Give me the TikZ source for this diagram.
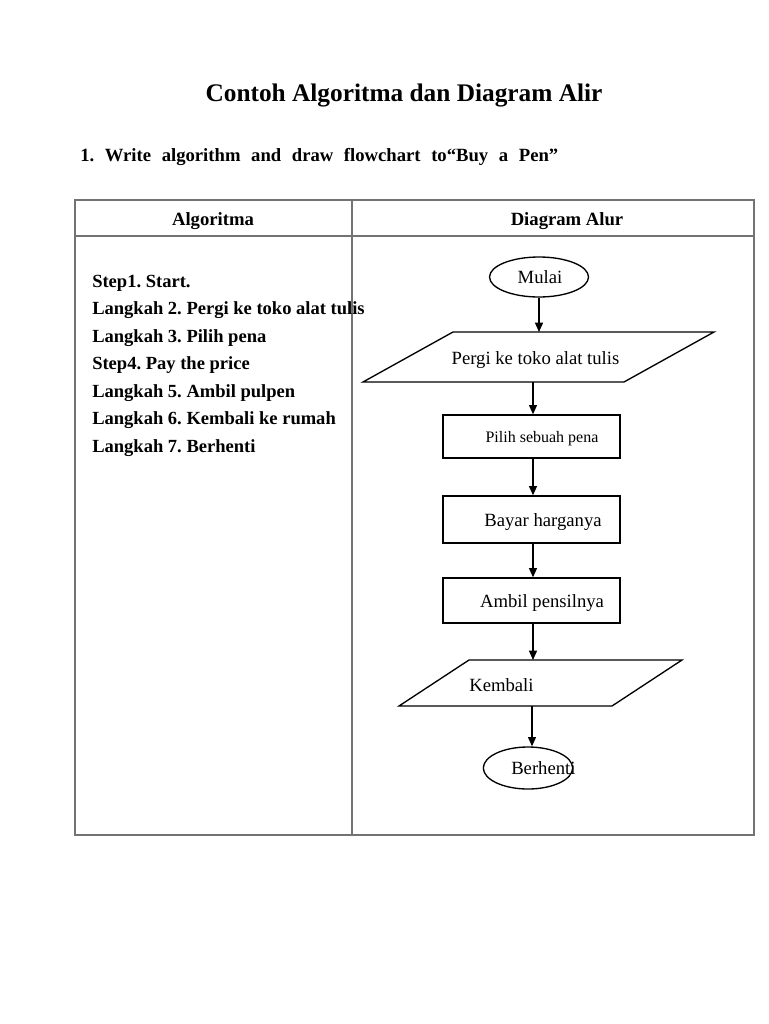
\documentclass[tikz,border=0pt]{standalone}
\usepackage{fontspec}
\setmainfont{Liberation Serif}
\usetikzlibrary{shapes.geometric,arrows.meta}
\frenchspacing
\begin{document}
\begin{tikzpicture}[x=0.75pt,y=-0.75pt,
  tbl/.style={draw=black!55,line width=0.8pt},
  fl/.style={draw=black,line width=1pt},
  arr/.style={fl,-{Triangle[length=7pt,width=6pt]}},
  boxn/.style={fl,rectangle,minimum width=132.75pt,inner sep=0pt},
  term/.style={fl,ellipse,inner sep=0pt},
  steptxt/.style={anchor=base west,inner sep=0pt,font=\fontsize{13.9}{16}\selectfont\bfseries},
  ftxt/.style={anchor=base,inner sep=0pt,font=\fontsize{14}{16}\selectfont},
  hdr/.style={anchor=base,inner sep=0pt,font=\fontsize{14}{16}\selectfont\bfseries}]
\useasboundingbox (0,0) rectangle (768,1024);
\fill[white] (0,0) rectangle (768,1024);
% title
\node[anchor=base,inner sep=0pt,font=\fontsize{19}{22}\selectfont\bfseries] (title) at (404,101) {Contoh Algoritma dan Diagram Alir};
\node[anchor=base west,inner sep=0pt,font=\fontsize{14}{16}\selectfont\bfseries] (q) at (80,161)
  {\makebox[358.5pt][s]{1. Write algorithm and draw flowchart to“Buy a Pen”}};
% table
\draw[tbl] (75,200) rectangle (754,835);
\draw[tbl] (75,236) -- (754,236);
\draw[tbl] (352,200) -- (352,835);
\node[hdr] (h1) at (213,225) {Algoritma};
\node[hdr] (h2) at (567,225) {Diagram Alur};
% steps
\node[steptxt] (s1) at (92,287) {Step1. Start.};
\node[steptxt] (s2) at (92,314.5) {Langkah 2. Pergi ke toko alat tulis};
\node[steptxt] (s3) at (92,342) {Langkah 3. Pilih pena};
\node[steptxt] (s4) at (92,369.5) {Step4. Pay the price};
\node[steptxt] (s5) at (92,397) {Langkah 5. Ambil pulpen};
\node[steptxt] (s6) at (92,424.5) {Langkah 6. Kembali ke rumah};
\node[steptxt] (s7) at (92,452) {Langkah 7. Berhenti};
% flowchart
\node[term,minimum width=74.25pt,minimum height=30pt] (mulai) at (539,277) {};
\node[ftxt] (tmulai) at (540,283) {Mulai};
\draw[fl] (453,332) -- (714,332) -- (624,382) -- (363,382) -- cycle;
\coordinate (p1top) at (539,332);
\coordinate (p1bot) at (533,382);
\node[ftxt] (tpergi) at (535.5,364) {Pergi ke toko alat tulis};
\node[boxn,minimum height=32.25pt] (pilih) at (531.5,436.5) {};
\node[anchor=base,inner sep=0pt,font=\fontsize{12}{14}\selectfont] (tpilih) at (542,442) {Pilih sebuah pena};
\node[boxn,minimum height=35.25pt] (bayar) at (531.5,519.5) {};
\node[ftxt] (tbayar) at (543,526) {Bayar harganya};
\node[boxn,minimum height=33.75pt] (ambil) at (531.5,600.5) {};
\node[ftxt] (tambil) at (542,607) {Ambil pensilnya};
\draw[fl] (469,660) -- (682,660) -- (612,706) -- (399,706) -- cycle;
\coordinate (p2top) at (533,660);
\coordinate (p2bot) at (532,706);
\node[anchor=base west,inner sep=0pt,font=\fontsize{14}{16}\selectfont] (tkembali) at (469,691) {Kembali};
\node[term,minimum width=67pt,minimum height=31.5pt] (berhenti) at (528,768) {};
\node[anchor=base west,inner sep=0pt,font=\fontsize{14}{16}\selectfont] (tberhenti) at (511,774) {Berhenti};
% arrows
\draw[arr] (mulai.south) -- (p1top);
\draw[arr] (p1bot) -- (p1bot |- pilih.north);
\draw[arr] (p1bot |- pilih.south) -- (p1bot |- bayar.north);
\draw[arr] (p1bot |- bayar.south) -- (p1bot |- ambil.north);
\draw[arr] (p1bot |- ambil.south) -- (p2top);
\draw[arr] (p2bot) -- (p2bot |- berhenti.north);
\end{tikzpicture}
\end{document}
